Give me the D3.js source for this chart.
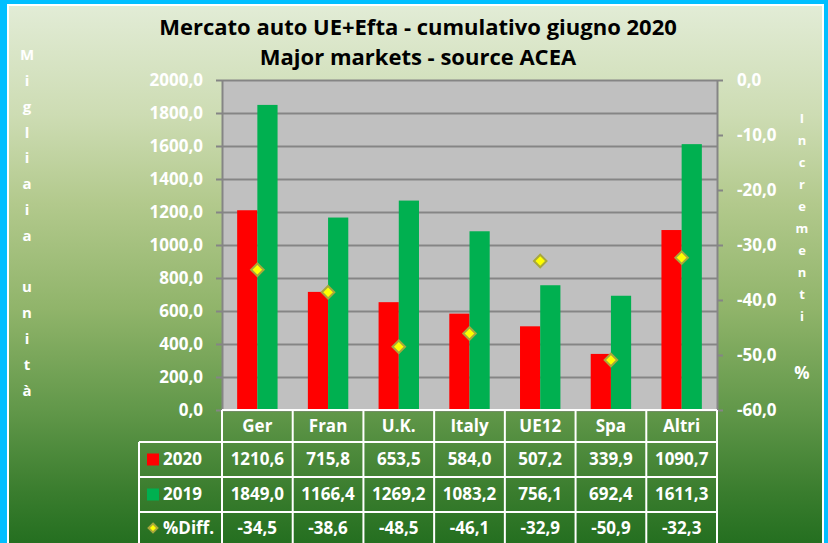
<!DOCTYPE html>
<html><head><meta charset="utf-8">
<script src="https://cdn.jsdelivr.net/npm/d3@7"></script>
<style>
html,body{margin:0;padding:0;background:#00bfff;}
svg{display:block;}
text{font-family:"Open Sans",sans-serif;font-weight:bold;}
</style></head>
<body>
<script>
const categories = ["Ger","Fran","U.K.","Italy","UE12","Spa","Altri"];
const values2020 = [1210.6,715.8,653.5,584.0,507.2,339.9,1090.7];
const values2019 = [1849.0,1166.4,1269.2,1083.2,756.1,692.4,1611.3];
const pctDiff = [-34.5,-38.6,-48.5,-46.1,-32.9,-50.9,-32.3];
const leftTicks = [0,200,400,600,800,1000,1200,1400,1600,1800,2000];
const rightTicks = [0,-10,-20,-30,-40,-50,-60];
const seriesNames = ["2020","2019","%Diff."];
const titleLines = ["Mercato auto UE+Efta - cumulativo giugno 2020","Major markets - source ACEA"];
const leftTitle = "Migliaia unità";
const rightTitle = "Incrementi";

const W = 828, H = 543;
const RED = "#ff0000", GREEN = "#00b050";
const locale = d3.formatLocale({decimal:",", thousands:"", grouping:[3], currency:["",""], minus:"-"});
const fmt = locale.format(".1f");

const svg = d3.select("body").append("svg").attr("width", W).attr("height", H);
const defs = svg.append("defs");
const grad = defs.append("linearGradient").attr("id","bg").attr("x1",0).attr("y1",0).attr("x2",0).attr("y2",1);
[[0,"#e2ecd6"],[0.2,"#cddcb3"],[0.36,"#b2c98c"],[0.55,"#90b46a"],[0.73,"#62984a"],[0.88,"#3a7d2e"],[1,"#1e6b1c"]]
  .forEach(([o,c]) => grad.append("stop").attr("offset",o).attr("stop-color",c));

// chart area
svg.append("rect").attr("x",8).attr("y",5).attr("width",815).attr("height",H+10)
  .attr("fill","url(#bg)").attr("stroke","#ffffff").attr("stroke-width",2);

const plot = {left:222, right:717, top:80, bottom:410};
const x = d3.scaleBand().domain(categories).range([plot.left, plot.right]).paddingInner(0).paddingOuter(0);
const bw = x.bandwidth()/3.5;
const xs = d3.scaleBand().domain(["2020","2019"]).range([x.bandwidth()/2 - bw, x.bandwidth()/2 + bw]);
const yL = d3.scaleLinear().domain([0,2000]).range([plot.bottom, plot.top]);
const yR = d3.scaleLinear().domain([-60,0]).range([plot.bottom, plot.top]);

// plot background
svg.append("rect").attr("x",plot.left).attr("y",plot.top)
  .attr("width",plot.right-plot.left).attr("height",plot.bottom-plot.top).attr("fill","#c0c0c0");

// gridlines
const grid = svg.append("g").attr("transform",`translate(${plot.left},0)`)
  .call(d3.axisLeft(yL).tickValues(leftTicks).tickSize(-(plot.right-plot.left)).tickFormat(""));
grid.select(".domain").remove();
grid.selectAll("line").attr("stroke","#858585").attr("stroke-width",2);

// bars
const gBars = svg.append("g");
categories.forEach((c,i) => {
  gBars.append("rect").attr("x", x(c)+xs("2020")).attr("y", yL(values2020[i]))
    .attr("width", xs.bandwidth()).attr("height", yL(0)-yL(values2020[i])).attr("fill", RED);
  gBars.append("rect").attr("x", x(c)+xs("2019")).attr("y", yL(values2019[i]))
    .attr("width", xs.bandwidth()).attr("height", yL(0)-yL(values2019[i])).attr("fill", GREEN);
});

// axes
const axL = svg.append("g").attr("transform",`translate(${plot.left},0)`)
  .call(d3.axisLeft(yL).tickValues(leftTicks).tickSize(6).tickSizeOuter(0).tickPadding(13).tickFormat(fmt));
const axR = svg.append("g").attr("transform",`translate(${plot.right},0)`)
  .call(d3.axisRight(yR).tickValues(rightTicks).tickSize(6).tickSizeOuter(0).tickPadding(14).tickFormat(fmt));
[axL, axR].forEach(a => {
  a.select(".domain").attr("stroke","#858585").attr("stroke-width",2);
  a.selectAll(".tick line").attr("stroke","#858585").attr("stroke-width",2);
  a.selectAll(".tick text").attr("fill","#ffffff").attr("font-size",17)
    .attr("font-family","'Open Sans',sans-serif").attr("font-weight","bold");
});

// diamond markers
const diamond = d3.symbol().type(d3.symbolDiamond2).size(100);
svg.append("g").selectAll("path").data(pctDiff).join("path")
  .attr("d", diamond)
  .attr("transform",(d,i) => `translate(${x(categories[i])+x.bandwidth()/2},${yR(d)})`)
  .attr("fill","#ffff00").attr("stroke","#a8a83c").attr("stroke-width",2);

// titles
svg.append("g").selectAll("text").data(titleLines).join("text")
  .attr("x", 418).attr("y",(d,i) => 35 + i*30).attr("text-anchor","middle")
  .attr("font-size",22).attr("fill","#000").text(d => d);

// left vertical title
svg.append("g").selectAll("text").data(Array.from(leftTitle)).join("text")
  .attr("x",27).attr("y",(d,i) => 55 + i*25.8).attr("dy","0.35em").attr("text-anchor","middle")
  .attr("font-size",15).attr("fill","#ffffff").text(d => d);

// right vertical title
svg.append("g").selectAll("text").data(Array.from(rightTitle)).join("text")
  .attr("x",802).attr("y",(d,i) => 118 + i*22).attr("dy","0.35em").attr("text-anchor","middle")
  .attr("font-size",13).attr("fill","#ffffff").text(d => d);
svg.append("text").attr("x",802).attr("y",373).attr("dy","0.35em").attr("text-anchor","middle")
  .attr("font-size",17).attr("fill","#ffffff").text("%");

// data table
const rowsY = [410, 442, 477, 512, 560];
const tbl = svg.append("g");
const lineStyle = s => s.attr("stroke","#ffffff").attr("stroke-width",2);
tbl.append("line").attr("x1",plot.left).attr("x2",plot.right).attr("y1",rowsY[0]).attr("y2",rowsY[0]).call(lineStyle);
[1,2,3].forEach(r => tbl.append("line").attr("x1",139).attr("x2",plot.right).attr("y1",rowsY[r]).attr("y2",rowsY[r]).call(lineStyle));
tbl.append("line").attr("x1",139).attr("x2",139).attr("y1",rowsY[1]).attr("y2",H).call(lineStyle);
categories.forEach(c => tbl.append("line").attr("x1",x(c)).attr("x2",x(c)).attr("y1",rowsY[0]).attr("y2",H).call(lineStyle));
tbl.append("line").attr("x1",plot.right).attr("x2",plot.right).attr("y1",rowsY[0]).attr("y2",H).call(lineStyle);

const cellText = (cx, cy, t, anchor) => tbl.append("text").attr("x",cx).attr("y",cy).attr("dy","0.35em")
  .attr("text-anchor",anchor || "middle").attr("font-size",17).attr("fill","#ffffff").text(t);

categories.forEach((c,i) => {
  const cx = x(c) + x.bandwidth()/2;
  cellText(cx, (rowsY[0]+rowsY[1])/2, c);
  cellText(cx, (rowsY[1]+rowsY[2])/2, fmt(values2020[i]));
  cellText(cx, (rowsY[2]+rowsY[3])/2, fmt(values2019[i]));
  cellText(cx, (rowsY[3]+rowsY[4]-16)/2, fmt(pctDiff[i]));
});
const ky1 = (rowsY[1]+rowsY[2])/2, ky2 = (rowsY[2]+rowsY[3])/2, ky3 = (rowsY[3]+rowsY[4]-16)/2;
tbl.append("rect").attr("x",147).attr("y",ky1-6).attr("width",12).attr("height",12).attr("fill",RED);
tbl.append("rect").attr("x",147).attr("y",ky2-6).attr("width",12).attr("height",12).attr("fill",GREEN);
tbl.append("path").attr("d", d3.symbol().type(d3.symbolDiamond2).size(50)).attr("transform",`translate(153,${ky3})`)
  .attr("fill","#ffff00").attr("stroke","#a8a83c").attr("stroke-width",2);
cellText(163, ky1, seriesNames[0], "start");
cellText(163, ky2, seriesNames[1], "start");
cellText(163, ky3, seriesNames[2], "start");
</script>
</body></html>
